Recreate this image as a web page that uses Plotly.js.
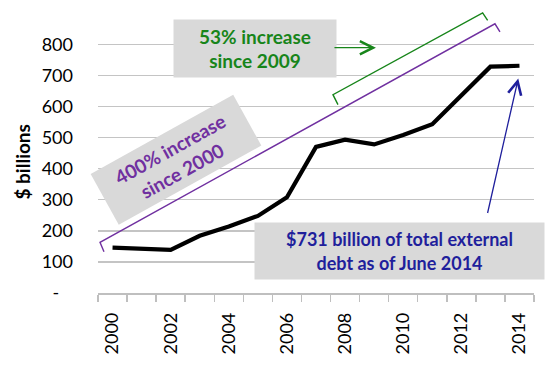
<!DOCTYPE html>
<html>
<head>
<meta charset="utf-8">
<script src="https://cdn.plot.ly/plotly-3.0.1.min.js"></script>
<style>
html,body{margin:0;padding:0;background:#fff;}
#chart{width:545px;height:389px;}
</style>
</head>
<body>
<div id="chart"></div>
<script>
// Data
var years = [2000, 2001, 2002, 2003, 2004, 2005, 2006, 2007, 2008, 2009, 2010, 2011, 2012, 2013, 2014];
var debt = [146, 142, 139, 184, 214, 248, 308, 470, 493, 478, 508, 543, 636, 728, 731];
var yTickVals = [0, 100, 200, 300, 400, 500, 600, 700, 800];
var yTickText = ['-\u00a0\u00a0\u00a0', '100', '200', '300', '400', '500', '600', '700', '800'];
var xTickVals = [2000, 2002, 2004, 2006, 2008, 2010, 2012, 2014];
var xTickText = ['2000', '2002', '2004', '2006', '2008', '2010', '2012', '2014'];

var FONT = 'Lato, "Open Sans", sans-serif';
var GREEN = '#17851a';
var PURPLE = '#7030a0';
var BLUE = '#1f1f9c';
var BOXBG = '#d9d9d9';

var trace = {
  x: years,
  y: debt,
  type: 'scatter',
  mode: 'lines',
  line: {color: '#000000', width: 4.2},
  hoverinfo: 'skip'
};

function boldFont(size, color) {
  return {family: FONT, size: size, color: color, weight: 900};
}

var layout = {
  width: 545,
  height: 389,
  margin: {l: 98, r: 11, t: 7.4, b: 95.5, pad: 0},
  paper_bgcolor: '#ffffff',
  plot_bgcolor: '#ffffff',
  showlegend: false,
  font: {family: FONT, size: 18, color: '#000000'},
  xaxis: {
    type: 'linear',
    range: [1999.5, 2014.5],
    tickvals: xTickVals,
    ticktext: xTickText,
    tickangle: -90,
    ticks: '',
    ticklabelstandoff: 11,
    showgrid: false,
    zeroline: false,
    showline: true,
    linecolor: '#bfbfbf',
    linewidth: 1.5,
    tickfont: {family: FONT, size: 18, color: '#000000'},
    minor: {ticks: 'outside', ticklen: 7, tick0: 1999.5, dtick: 1, tickcolor: '#bfbfbf', tickwidth: 1.5, showgrid: false},
    fixedrange: true
  },
  yaxis: {
    range: [0, 920],
    tickvals: yTickVals,
    ticktext: yTickText,
    ticks: '',
    ticklabelstandoff: 24,
    showgrid: true,
    gridcolor: '#c4c4c4',
    gridwidth: 1.5,
    zeroline: false,
    showline: false,
    tickfont: {family: FONT, size: 18, color: '#000000'},
    fixedrange: true
  },
  shapes: [
    {type: 'path', xref: 'x', yref: 'y',
     path: 'M 2007.756,606 L 2007.584,638 L 2012.733,901 L 2012.905,877',
     line: {color: GREEN, width: 1.4}},
    {type: 'path', xref: 'x', yref: 'y',
     path: 'M 1999.706,133 L 1999.569,163 L 2013.157,866 L 2013.329,840',
     line: {color: PURPLE, width: 1.4}}
  ],
  annotations: [
    {xref: 'paper', yref: 'paper', x: -0.205, y: 0.46, text: '<b>$ billions</b>',
     textangle: -90, showarrow: false, font: boldFont(19, '#000000')},
    {xref: 'x', yref: 'y', x: 2004.894, y: 786, text: '<b>53% increase<br>since 2009</b>',
     showarrow: false, bgcolor: BOXBG, width: 160, height: 55, align: 'center',
     font: boldFont(19, GREEN)},
    {xref: 'x', yref: 'y', x: 2002.2, y: 429, text: '<b>400% increase<br>since 2000</b>',
     showarrow: false, bgcolor: BOXBG, width: 160, height: 55, textangle: -29, align: 'center',
     font: boldFont(19, PURPLE)},
    {xref: 'x', yref: 'y', x: 2009.889, y: 135, text: '<b>$731 billion of total external<br>debt as of June 2014</b>',
     showarrow: false, bgcolor: BOXBG, width: 287, height: 54, align: 'center',
     font: boldFont(18, BLUE)},
    {xref: 'x', yref: 'y', x: 2009.063, y: 789, text: '', showarrow: true,
     axref: 'pixel', ayref: 'pixel', ax: -43, ay: 0, arrowhead: 5, arrowsize: 2, arrowwidth: 1.3,
     arrowcolor: GREEN, standoff: 0, startstandoff: 0},
    {xref: 'x', yref: 'y', x: 2013.958, y: 690, text: '', showarrow: true,
     axref: 'pixel', ayref: 'pixel', ax: -31, ay: 136, arrowhead: 5, arrowsize: 2, arrowwidth: 1.3,
     arrowcolor: BLUE, standoff: 0, startstandoff: 0}
  ]
};

Plotly.newPlot('chart', [trace], layout, {staticPlot: true, displayModeBar: false});
</script>
</body>
</html>
